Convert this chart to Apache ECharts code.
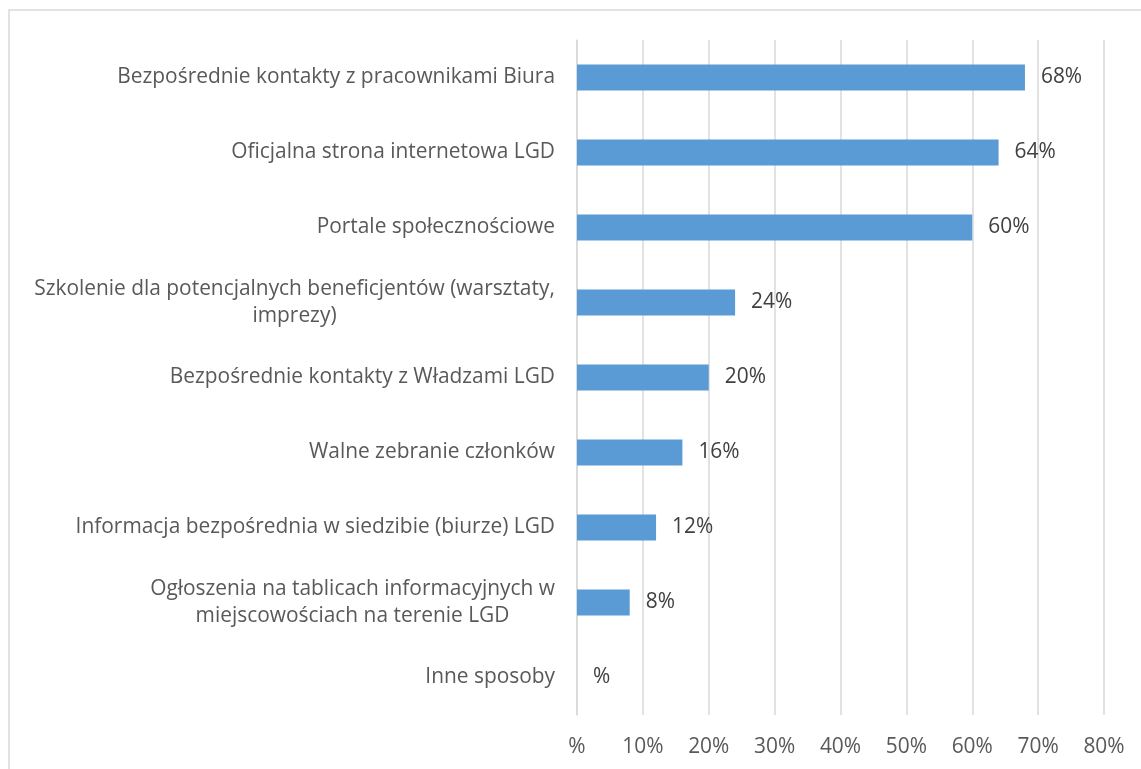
<!DOCTYPE html>
<html>
<head>
<meta charset="utf-8">
<script src="https://cdn.jsdelivr.net/npm/echarts@6/dist/echarts.min.js"></script>
<style>
  html, body { margin: 0; padding: 0; background: #fff; }
  #chart { width: 1141px; height: 769px; }
</style>
</head>
<body>
<div id="chart"></div>
<script>
// kategorie (od góry do dołu)
const categories = [
  'Bezpośrednie kontakty z pracownikami Biura',
  'Oficjalna strona internetowa LGD',
  'Portale społecznościowe',
  'Szkolenie dla potencjalnych beneficjentów (warsztaty,\nimprezy)',
  'Bezpośrednie kontakty z Władzami LGD',
  'Walne zebranie członków',
  'Informacja bezpośrednia w siedzibie (biurze) LGD',
  'Ogłoszenia na tablicach informacyjnych w\nmiejscowościach na terenie LGD',
  'Inne sposoby'
];
const values = [68, 64, 60, 24, 20, 16, 12, 8, 0];
const xTicks = [0, 10, 20, 30, 40, 50, 60, 70, 80];

const FONT = '"Open Sans"';
const TEXT_COLOR = '#595959';

// dobór rozmiaru czcionki tak, by najdłuższa etykieta miała ok. 438 px
const ctx = document.createElement('canvas').getContext('2d');
ctx.font = '100px ' + FONT;
let FONT_SIZE = Math.round(438 / ctx.measureText(categories[0]).width * 1000) / 10;
if (!isFinite(FONT_SIZE) || FONT_SIZE < 14 || FONT_SIZE > 22) FONT_SIZE = 18;
ctx.font = FONT_SIZE + 'px ' + FONT;
function textWidth(s) { return Math.ceil(ctx.measureText(s).width); }

const LINE_H = 27;
const rich = {};
function labelFormatter(value) {
  const lines = value.split('\n');
  if (lines.length === 1) return value;
  const key = 'w' + Math.max(...lines.map(textWidth));
  rich[key] = { width: Number(key.slice(1)), align: 'center', fontFamily: FONT, fontSize: FONT_SIZE, color: TEXT_COLOR, lineHeight: LINE_H };
  return lines.map(l => '{' + key + '|' + l + '}').join('\n');
}
categories.forEach(labelFormatter);

const pct = v => (v === 0 ? '%' : v + '%');

const chart = echarts.init(document.getElementById('chart'));
chart.setOption({
  animation: false,
  textStyle: { fontFamily: FONT },
  graphic: [{
    type: 'rect',
    shape: { x: 9, y: 10, width: 1200, height: 800 },
    style: { fill: 'none', stroke: '#d9d9d9', lineWidth: 1.5 },
    silent: true
  }],
  grid: { left: 577, right: 37, top: 40, bottom: 54 },
  xAxis: {
    type: 'value',
    min: xTicks[0],
    max: xTicks[xTicks.length - 1],
    interval: 10,
    axisLine: { show: false },
    axisTick: { show: false },
    splitLine: { lineStyle: { color: '#d9d9d9', width: 1.5 } },
    axisLabel: { formatter: pct, color: TEXT_COLOR, fontSize: FONT_SIZE, fontFamily: FONT, margin: 22 }
  },
  yAxis: {
    type: 'category',
    inverse: true,
    data: categories,
    axisLine: { lineStyle: { color: '#d9d9d9', width: 1.5 } },
    axisTick: { show: false },
    axisLabel: {
      formatter: labelFormatter,
      rich: rich,
      color: TEXT_COLOR,
      fontSize: FONT_SIZE,
      fontFamily: FONT,
      lineHeight: LINE_H,
      margin: 22,
      align: 'right'
    }
  },
  series: [{
    type: 'bar',
    data: values,
    barWidth: 26,
    itemStyle: { color: '#5b9bd5' },
    label: {
      show: true,
      position: 'right',
      distance: 16,
      formatter: p => pct(p.value),
      color: '#404040',
      fontSize: FONT_SIZE,
      fontFamily: FONT
    }
  }]
});
</script>
</body>
</html>
